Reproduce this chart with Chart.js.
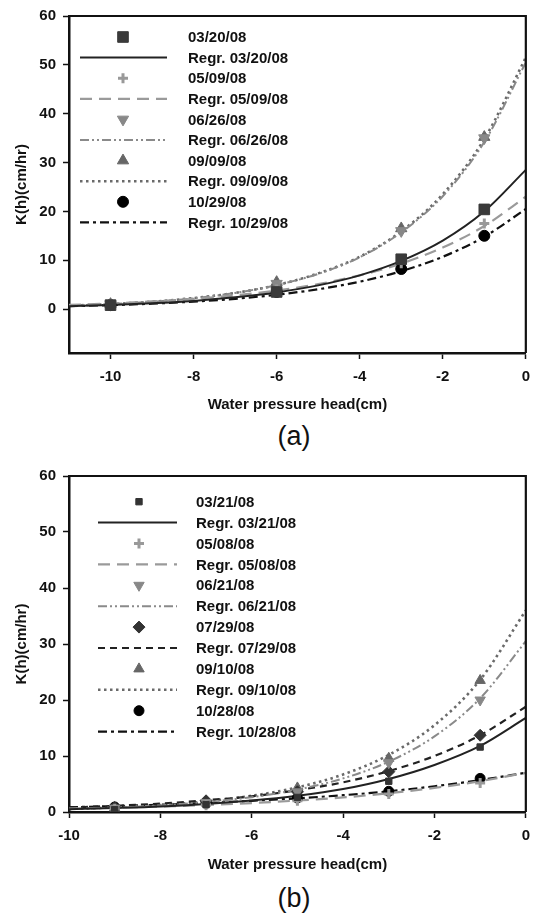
<!DOCTYPE html>
<html><head><meta charset="utf-8">
<script src="https://cdn.jsdelivr.net/npm/chart.js@4.4.1/dist/chart.umd.min.js"></script>
<style>
html,body{margin:0;padding:0;background:#fff;}
#wrap{position:relative;width:539px;height:914px;overflow:hidden;}
canvas{position:absolute;left:0;}
.lab{position:absolute;font-family:"Liberation Sans",Arial,sans-serif;font-size:27px;color:#111;transform:translate(-50%,-50%);white-space:nowrap;}
</style></head>
<body><div id="wrap">
<canvas id="ca" width="539" height="420" style="top:0"></canvas>
<canvas id="cb" width="539" height="420" style="top:460px"></canvas>
<div class="lab" style="left:294px;top:436px">(a)</div>
<div class="lab" style="left:294px;top:898px">(b)</div>
</div>
<script>
// ---------- DATA (a) ----------
const ptsXA = [-10, -6, -3, -1];
const a0320 = [0.8, 3.5, 10.2, 20.4];
const a0509 = [0.9, 4.0, 9.4, 17.5];
const a0626 = [1.0, 5.2, 16.0, 35.0];
const a0909 = [1.0, 5.5, 16.5, 35.2];
const a1029 = [0.8, 3.5, 8.2, 15.0];
const regXA = [-11, -10, -9, -8, -7, -6, -5, -4, -3, -2, -1, 0];
const rA0320 = [0.58, 0.82, 1.17, 1.67, 2.4, 3.4, 4.85, 6.9, 9.85, 14.0, 20.0, 28.5];
const rA0509 = [0.85, 1.15, 1.55, 2.1, 2.8, 3.8, 5.1, 6.9, 9.3, 12.6, 17.0, 23.0];
const rA0626 = [0.7, 1.0, 1.5, 2.2, 3.3, 4.9, 7.2, 10.6, 15.7, 23.1, 34.2, 50.5];
const rA0909 = [0.7, 1.02, 1.5, 2.25, 3.3, 4.9, 7.3, 10.7, 15.9, 23.5, 34.8, 51.5];
const rA1029 = [0.58, 0.8, 1.1, 1.53, 2.1, 2.93, 4.05, 5.6, 7.75, 10.7, 14.8, 20.5];
const labelsA = ["03/20/08", "05/09/08", "06/26/08", "09/09/08", "10/29/08"];

// ---------- DATA (b) ----------
const ptsXB = [-9, -7, -5, -3, -1];
const b0321 = [0.4, 1.3, 2.6, 5.5, 11.6];
const b0508 = [0.6, 1.2, 2.0, 3.2, 5.2];
const b0621 = [0.7, 1.7, 3.6, 8.8, 20.0];
const b0729 = [0.8, 2.0, 3.6, 7.2, 13.7];
const b0910 = [0.7, 1.8, 4.3, 9.6, 23.5];
const b1028 = [0.9, 1.6, 2.5, 3.7, 6.0];
const regXB = [-10, -9, -8, -7, -6, -5, -4, -3, -2, -1, 0];
const rB0321 = [0.5, 0.72, 1.0, 1.45, 2.05, 2.9, 4.1, 5.9, 8.4, 11.8, 16.8];
const rB0508 = [0.6, 0.77, 0.98, 1.25, 1.6, 2.05, 2.6, 3.35, 4.3, 5.5, 7.0];
const rB0621 = [0.52, 0.78, 1.18, 1.77, 2.65, 4.0, 6.0, 9.0, 13.5, 20.3, 30.5];
const rB0729 = [0.8, 1.1, 1.5, 2.1, 2.8, 3.9, 5.3, 7.3, 10.0, 13.7, 18.8];
const rB0910 = [0.54, 0.82, 1.25, 1.9, 2.9, 4.4, 6.7, 10.2, 15.5, 23.6, 36.0];
const rB1028 = [0.86, 1.05, 1.3, 1.6, 2.0, 2.45, 3.0, 3.7, 4.6, 5.7, 7.0];
const labelsB = ["03/21/08", "05/08/08", "06/21/08", "07/29/08", "09/10/08", "10/28/08"];

const yTicksTitle = "K(h)(cm/hr)";
const xTitle = "Water pressure head(cm)";
// ---------------------------------

const FONT = '"Liberation Sans", Arial, sans-serif';
const zip = (xs, ys) => xs.map((x, i) => ({x: x, y: ys[i]}));

function pointDs(label, xs, ys, style, color, r, rot, bw) {
  return {label, data: zip(xs, ys), showLine: false, pointStyle: style, pointRadius: r,
    pointHoverRadius: r, pointRotation: rot || 0, backgroundColor: color, borderColor: color,
    pointBorderWidth: bw || 1, order: 0};
}
function lineDs(label, xs, ys, color, width, dash) {
  return {label, data: zip(xs, ys), showLine: true, pointRadius: 0, borderColor: color,
    backgroundColor: color, borderWidth: width, borderDash: dash, cubicInterpolationMode: 'monotone',
    isLine: true, order: 1, clip: true};
}

const framePlugin = {
  id: 'frame',
  afterDraw(chart) {
    const {ctx, chartArea: ca} = chart;
    ctx.save();
    ctx.strokeStyle = '#111'; ctx.lineWidth = 2.2;
    ctx.beginPath();
    ctx.moveTo(ca.left, ca.top); ctx.lineTo(ca.right, ca.top); ctx.lineTo(ca.right, ca.bottom);
    ctx.stroke();
    ctx.restore();
  }
};

const legendPlugin = {
  id: 'inlegend',
  afterDraw(chart, args, o) {
    const {ctx, chartArea: ca} = chart;
    ctx.save();
    chart.data.datasets.forEach((ds, i) => {
      const y = ca.top + o.top + i * o.step;
      if (ds.isLine) {
        ctx.strokeStyle = ds.borderColor; ctx.lineWidth = ds.borderWidth;
        ctx.setLineDash(ds.borderDash || []);
        ctx.beginPath(); ctx.moveTo(ca.left + o.l0, y); ctx.lineTo(ca.left + o.l1, y); ctx.stroke();
        ctx.setLineDash([]);
      } else {
        ctx.fillStyle = ds.backgroundColor; ctx.strokeStyle = ds.borderColor;
        ctx.lineWidth = ds.pointBorderWidth;
        Chart.helpers.drawPoint(ctx, {pointStyle: ds.pointStyle, radius: ds.pointRadius * o.ms,
          rotation: ds.pointRotation, borderWidth: ds.pointBorderWidth}, ca.left + o.mx, y);
      }
      ctx.fillStyle = '#111';
      ctx.font = 'bold 15px ' + FONT;
      ctx.textBaseline = 'middle';
      ctx.textAlign = 'left';
      ctx.fillText(ds.label, ca.left + o.tx, y + 1);
    });
    ctx.restore();
  }
};

function makeChart(id, datasets, xmin, ymin, xH, leg) {
  return new Chart(document.getElementById(id), {
    type: 'scatter',
    data: {datasets},
    plugins: [framePlugin, legendPlugin],
    options: {
      responsive: false, animation: false, devicePixelRatio: 1,
      layout: {padding: {top: 16, right: 5, left: 0, bottom: 0}},
      plugins: {legend: {display: false}, tooltip: {enabled: false}, inlegend: leg},
      scales: {
        x: {
          type: 'linear', min: xmin, max: 0,
          afterFit(s) { s.height = xH; },
          ticks: {stepSize: 2, includeBounds: false, padding: 9, color: '#111',
            font: {family: FONT, size: 15, weight: 'bold'}},
          grid: {display: true, drawOnChartArea: false, drawTicks: true, tickLength: 6,
            tickColor: '#111', tickWidth: 1.5},
          border: {display: true, color: '#111', width: 2.5},
          title: {display: true, text: xTitle, color: '#111', padding: {top: 2, bottom: 6},
            font: {family: FONT, size: 15, weight: 'bold'}}
        },
        y: {
          type: 'linear', min: ymin, max: 60,
          afterFit(s) { s.width = 69; },
          ticks: {stepSize: 10, includeBounds: false, padding: 7, color: '#111',
            font: {family: FONT, size: 15, weight: 'bold'}},
          grid: {display: true, drawOnChartArea: false, drawTicks: true, tickLength: 6,
            tickColor: '#111', tickWidth: 1.5},
          border: {display: true, color: '#111', width: 2.5},
          title: {display: true, text: yTicksTitle, color: '#111', padding: {top: 13, bottom: 0},
            font: {family: FONT, size: 15, weight: 'bold'}}
        }
      }
    }
  });
}

const DOT = [2.5, 3.5], DASH = [12, 7], DDD = [9, 3, 2, 3, 2, 3], DASHDOT = [9, 4, 3, 4];

makeChart('ca', [
  pointDs(labelsA[0], ptsXA, a0320, 'rect', '#3a3a3a', 7.5),
  lineDs('Regr. ' + labelsA[0], regXA, rA0320, '#222', 2, []),
  pointDs(labelsA[1], ptsXA, a0509, 'cross', '#999', 5, 0, 3),
  lineDs('Regr. ' + labelsA[1], regXA, rA0509, '#9a9a9a', 2.2, DASH),
  pointDs(labelsA[2], ptsXA, a0626, 'triangle', '#888', 6.5, 180),
  lineDs('Regr. ' + labelsA[2], regXA, rA0626, '#8a8a8a', 2, DDD),
  pointDs(labelsA[3], ptsXA, a0909, 'triangle', '#666', 6.5, 0),
  lineDs('Regr. ' + labelsA[3], regXA, rA0909, '#6a6a6a', 2.6, DOT),
  pointDs(labelsA[4], ptsXA, a1029, 'circle', '#000', 5.5),
  lineDs('Regr. ' + labelsA[4], regXA, rA1029, '#111', 2.2, DASHDOT)
], -11, -9, 67, {top: 21, step: 20.6, mx: 54, l0: 11, l1: 98, tx: 119, ms: 1});

makeChart('cb', [
  pointDs(labelsB[0], ptsXB, b0321, 'rect', '#333', 4.5),
  lineDs('Regr. ' + labelsB[0], regXB, rB0321, '#222', 2, []),
  pointDs(labelsB[1], ptsXB, b0508, 'cross', '#999', 5, 0, 3),
  lineDs('Regr. ' + labelsB[1], regXB, rB0508, '#9a9a9a', 2.2, DASH),
  pointDs(labelsB[2], ptsXB, b0621, 'triangle', '#888', 6, 180),
  lineDs('Regr. ' + labelsB[2], regXB, rB0621, '#8a8a8a', 2, DDD),
  pointDs(labelsB[3], ptsXB, b0729, 'rectRot', '#333', 6),
  lineDs('Regr. ' + labelsB[3], regXB, rB0729, '#222', 2.2, [7, 5]),
  pointDs(labelsB[4], ptsXB, b0910, 'triangle', '#666', 6, 0),
  lineDs('Regr. ' + labelsB[4], regXB, rB0910, '#6a6a6a', 2.6, DOT),
  pointDs(labelsB[5], ptsXB, b1028, 'circle', '#000', 5),
  lineDs('Regr. ' + labelsB[5], regXB, rB1028, '#111', 2.2, DASHDOT)
], -10, 0, 68, {top: 25.7, step: 20.9, mx: 70, l0: 29, l1: 108, tx: 127, ms: 1});
</script>
</body></html>
